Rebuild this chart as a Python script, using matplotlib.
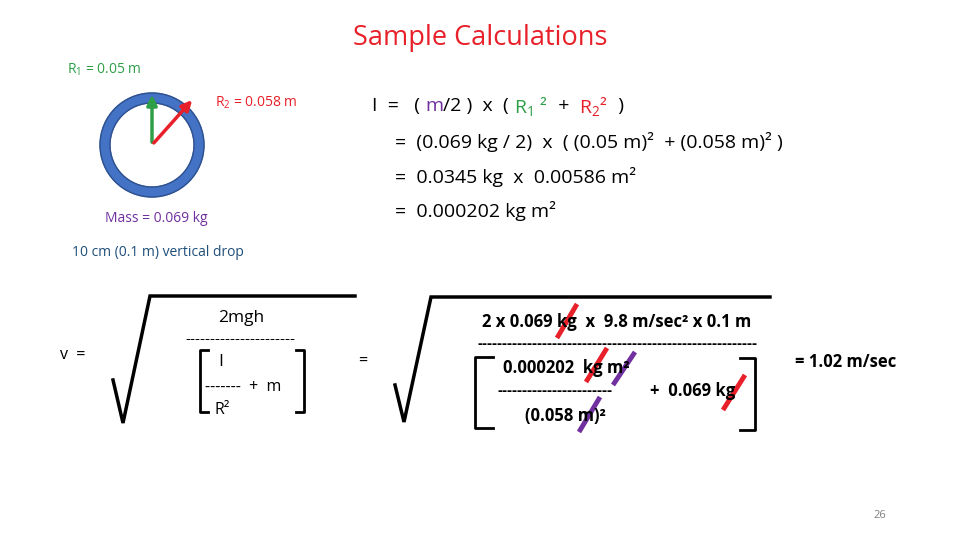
import matplotlib
matplotlib.use("Agg")
import matplotlib.pyplot as plt
from matplotlib.patches import Circle

plt.rcParams['font.family'] = ['Open Sans', 'DejaVu Sans']
plt.rcParams['mathtext.fontset'] = 'custom'
plt.rcParams['mathtext.rm'] = 'Open Sans'
plt.rcParams['mathtext.it'] = 'Open Sans'
R1, R2, mass, drop = "0.05", "0.058", "0.069", "0.1"
result = "1.02"
page = "26"

RED = "#E8202A"; GREEN = "#2E9E47"; PURPLE = "#7030A0"; BLUE = "#4472C4"; DBLUE = "#1F4E79"

fig = plt.figure(figsize=(9.6, 5.4), dpi=100)
ax = fig.add_axes([0, 0, 1, 1])
ax.set_xlim(0, 960); ax.set_ylim(540, 0); ax.axis('off')
rend = fig.canvas.get_renderer()

def t(x, y, s, size=11, color='black', ha='left', **kw):
    return ax.text(x, y, s, fontsize=size, color=color, ha=ha, va='center', **kw)

def seq(x, y, parts, size):
    for s, c in parts:
        tx = t(x, y, s, size, c)
        bb = tx.get_window_extent(rend)
        x += bb.width

t(480, 38, "Sample Calculations", 19.5, RED, ha='center')
t(67, 70, f"R$_1$ = {R1} m", 10, GREEN)
ax.add_patch(Circle((152, 145), 47, fill=False, lw=8, ec=BLUE))
ax.add_patch(Circle((152, 145), 52, fill=False, lw=1, ec="#2F528F"))
ax.add_patch(Circle((152, 145), 42, fill=False, lw=1, ec="#2F528F"))
ax.annotate("", xy=(152, 92), xytext=(152, 145), arrowprops=dict(arrowstyle='-|>', color=GREEN, lw=2.5, mutation_scale=15))
ax.annotate("", xy=(194, 98), xytext=(152, 145), arrowprops=dict(arrowstyle='-|>', color=RED, lw=2.5, mutation_scale=15))
t(215, 103, f"R$_2$ = {R2} m", 10, RED)
t(105, 218, f"Mass = {mass} kg", 10, PURPLE)
t(72, 252, f"10 cm ({drop} m) vertical drop", 10, DBLUE)

fs = 14
seq(372, 106, [("I  =   ( ", 'black'), ("m", PURPLE), ("/2 )  x  ( ", 'black'),
               ("R$_1$ ²", GREEN), ("  +  ", 'black'), ("R$_2$²", RED), ("  )", 'black')], fs)
t(395, 142, f"=  ({mass} kg / 2)  x  ( ({R1} m)²  + ({R2} m)² )", fs)
t(395, 177, "=  0.0345 kg  x  0.00586 m²", fs)
t(395, 211, "=  0.000202 kg m²", fs)

# left radical
ax.plot([113, 123, 150, 355], [380, 423, 296, 296], color='black', lw=2.5, solid_joinstyle='miter')
t(60, 355, "v  =", 11.5)
t(218, 318, "2mgh", 12.5)
t(185, 340, "-" * 22, 11)
t(218, 362, "I", 12.5)
t(205, 387, "-------  +  m", 11.5)
t(215, 410, "R²", 11.5)
ax.plot([208, 200, 200, 208], [350, 350, 412, 412], color='black', lw=2)
ax.plot([296, 304, 304, 296], [350, 350, 412, 412], color='black', lw=2)
t(358, 362, "=", 11.5)

# right radical
ax.plot([395, 404, 431, 770], [385, 422, 297, 297], color='black', lw=2.5, solid_joinstyle='miter')
t(617, 322, f"2 x {mass} kg  x  9.8 m/sec² x {drop} m", 12, ha='center', fontweight='bold')
t(617, 344, "-" * 56, 11, ha='center', fontweight='bold')
t(503, 368, "0.000202  kg m²", 12, fontweight='bold')
t(498, 391, "-" * 23, 11, fontweight='bold')
t(650, 391, "+  0.069 kg", 12, fontweight='bold')
t(525, 416, f"({R2} m)²", 12, fontweight='bold')
ax.plot([493, 475, 475, 493], [357, 357, 428, 428], color='black', lw=2)
ax.plot([740, 755, 755, 740], [358, 358, 430, 430], color='black', lw=2)
for (x0, y0, x1, y1, c) in [(557, 338, 577, 304, RED), (586, 382, 607, 348, RED),
                            (613, 385, 635, 352, PURPLE), (579, 432, 600, 397, PURPLE),
                            (723, 410, 745, 375, RED)]:
    ax.plot([x0, x1], [y0, y1], color=c, lw=3.5, solid_capstyle='butt')
t(795, 362, f"= {result} m/sec", 12, fontweight='bold')
t(880, 515, page, 8, 'gray', ha='center')

fig.savefig("out.png", dpi=100)
